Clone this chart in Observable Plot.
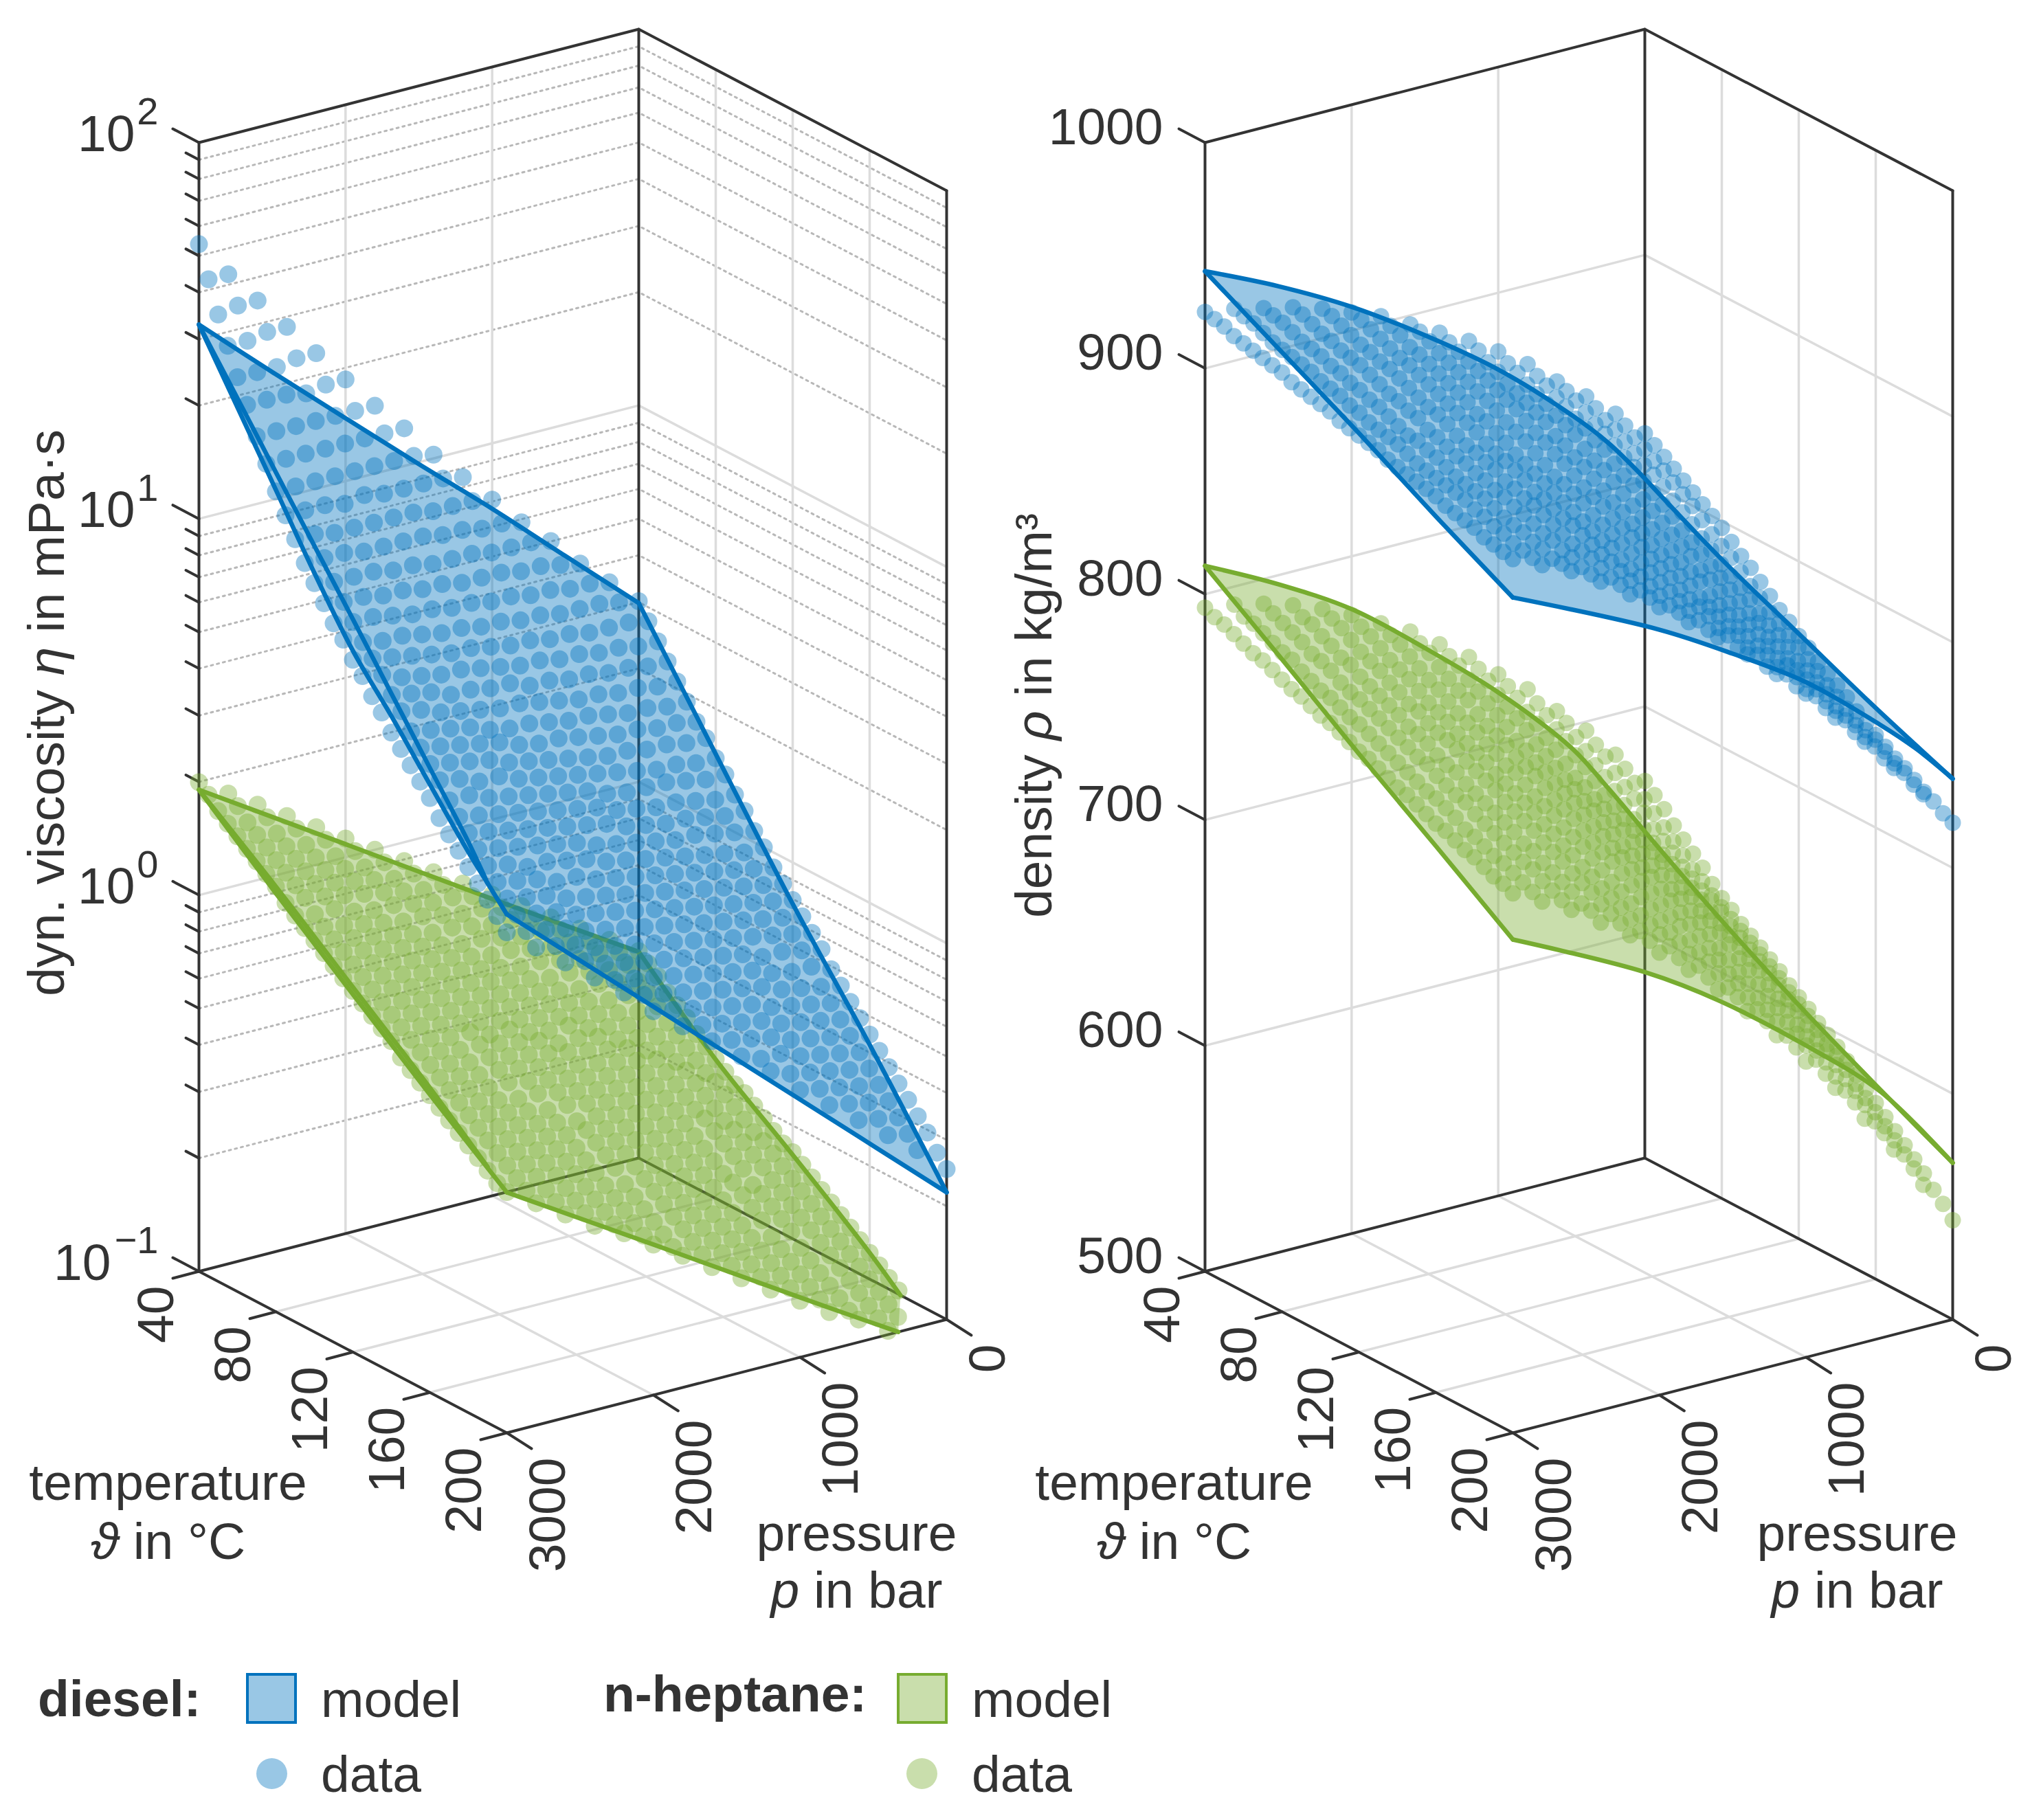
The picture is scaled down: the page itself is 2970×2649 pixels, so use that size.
<!DOCTYPE html>
<html><head><meta charset="utf-8">
<script src="https://cdn.jsdelivr.net/npm/d3@7"></script>
<script src="https://cdn.jsdelivr.net/npm/@observablehq/plot@0.6"></script>
<style>
html,body{margin:0;padding:0;background:#fff}
#page{position:relative;width:2970px;height:2649px;font-family:"Liberation Sans",Arial,sans-serif;color:#333;overflow:hidden}
#legend{position:relative;width:2970px;height:249px}
#legend span{position:absolute;font-size:75px;line-height:75px;white-space:nowrap}
#legend i{position:absolute;display:block;box-sizing:border-box}
</style></head><body><div id="page"><div id="chart"></div><div id="legend"></div></div>
<script>
const temps=[40,45,50,55,60,65,70,75,80,85,90,95,100,105,110,115,120,125,130,135,140,145,150,155,160,165,170,175,180,185,190,195,200];
const press=[0,200,400,600,800,1000,1200,1400,1600,1800,2000,2200,2400,2600,2800,3000];
// log10 of eta (mPa·s): one row per temperature, one column per pressure
const etaDieselData=[
[.48,.55,.62,.70,.77,.85,.93,1.01,1.10,1.18,1.27,1.36,1.45,1.54,1.63,1.73],
[.44,.51,.58,.65,.73,.80,.88,.96,1.04,1.12,1.20,1.29,1.38,1.47,1.56,1.65],
[.40,.47,.54,.60,.68,.75,.82,.90,.98,1.06,1.14,1.22,1.30,1.39,1.48,1.57],
[.36,.42,.49,.56,.63,.70,.77,.85,.92,1.00,1.08,1.16,1.24,1.33,1.41,1.50],
[.32,.38,.45,.51,.58,.65,.73,.80,.87,.95,1.02,1.10,1.18,1.26,1.35,1.43],
[.28,.34,.41,.47,.54,.61,.68,.75,.82,.90,.97,1.05,1.12,1.20,1.28,1.37],
[.24,.30,.37,.43,.50,.56,.63,.70,.77,.84,.92,.99,1.06,1.14,1.22,1.30],
[.21,.27,.33,.39,.46,.52,.59,.66,.73,.80,.87,.94,1.01,1.09,1.16,1.24],
[.17,.23,.29,.35,.42,.48,.55,.61,.68,.75,.82,.89,.96,1.03,1.11,1.18],
[.14,.19,.26,.32,.38,.44,.51,.57,.64,.71,.78,.85,.92,.99,1.06,1.13],
[.10,.16,.22,.28,.34,.41,.47,.53,.60,.67,.73,.80,.87,.94,1.01,1.08],
[.07,.12,.19,.24,.31,.37,.43,.50,.57,.63,.69,.76,.83,.90,.96,1.03],
[.03,.09,.15,.22,.27,.33,.40,.46,.53,.59,.66,.72,.79,.86,.92,.99],
[0,.06,.12,.18,.24,.30,.36,.43,.49,.55,.62,.68,.75,.81,.88,.95],
[-.04,.02,.09,.15,.20,.26,.33,.39,.45,.51,.58,.64,.71,.78,.84,.91],
[-.07,-.01,.05,.12,.17,.23,.29,.36,.42,.48,.54,.61,.68,.74,.81,.88],
[-.10,-.04,.02,.08,.14,.20,.26,.33,.39,.45,.52,.58,.64,.71,.78,.84],
[-.13,-.07,-.01,.05,.11,.17,.23,.30,.36,.42,.48,.55,.61,.68,.74,.81],
[-.16,-.10,-.04,.02,.08,.14,.20,.27,.33,.39,.45,.52,.58,.64,.71,.77],
[-.19,-.13,-.07,-.01,.05,.11,.17,.23,.30,.36,.42,.49,.55,.61,.67,.74],
[-.23,-.16,-.10,-.04,.02,.08,.14,.20,.26,.33,.39,.45,.51,.58,.64,.70],
[-.26,-.19,-.13,-.07,-.01,.05,.11,.17,.23,.30,.36,.42,.48,.55,.61,.67],
[-.29,-.23,-.17,-.11,-.04,.02,.08,.14,.20,.27,.33,.39,.45,.52,.58,.64],
[-.32,-.26,-.20,-.14,-.07,-.01,.05,.11,.17,.23,.30,.36,.42,.48,.54,.61],
[-.35,-.29,-.23,-.17,-.10,-.04,.02,.08,.14,.20,.27,.33,.39,.45,.51,.58],
[-.38,-.32,-.26,-.20,-.13,-.07,-.01,.05,.11,.17,.23,.29,.35,.42,.48,.54],
[-.41,-.35,-.29,-.23,-.17,-.10,-.04,.02,.08,.14,.20,.26,.33,.39,.45,.51],
[-.44,-.38,-.32,-.26,-.20,-.13,-.07,-.01,.05,.11,.17,.23,.30,.36,.42,.48],
[-.47,-.41,-.35,-.29,-.23,-.16,-.10,-.04,.02,.08,.14,.20,.27,.33,.39,.45],
[-.50,-.44,-.38,-.32,-.26,-.19,-.13,-.07,-.01,.05,.11,.17,.24,.30,.36,.42],
[-.53,-.47,-.41,-.35,-.29,-.22,-.16,-.10,-.04,.02,.08,.14,.21,.27,.33,.39],
[-.57,-.50,-.44,-.38,-.32,-.26,-.20,-.13,-.07,-.01,.05,.11,.18,.24,.30,.36],
[-.60,-.53,-.47,-.41,-.35,-.29,-.22,-.16,-.10,-.04,.02,.09,.15,.21,.27,.33]];
const etaHeptData=[
[-.45,-.40,-.35,-.30,-.25,-.20,-.15,-.10,-.05,0,.05,.10,.15,.20,.25,.30],
[-.47,-.42,-.37,-.32,-.27,-.22,-.17,-.12,-.07,-.02,.03,.08,.13,.18,.23,.28],
[-.49,-.44,-.39,-.34,-.29,-.24,-.19,-.14,-.10,-.05,0,.05,.10,.15,.20,.25],
[-.52,-.47,-.42,-.37,-.32,-.27,-.22,-.17,-.12,-.07,-.02,.03,.08,.13,.18,.23],
[-.54,-.49,-.44,-.39,-.34,-.29,-.24,-.19,-.14,-.09,-.04,.01,.06,.11,.16,.21],
[-.56,-.51,-.46,-.41,-.36,-.31,-.26,-.21,-.16,-.11,-.06,-.01,.04,.09,.14,.19],
[-.59,-.54,-.49,-.44,-.39,-.34,-.29,-.24,-.19,-.14,-.09,-.04,.02,.07,.12,.17],
[-.61,-.56,-.51,-.46,-.41,-.36,-.31,-.26,-.21,-.16,-.11,-.06,-.01,.05,.10,.15],
[-.63,-.58,-.53,-.48,-.43,-.38,-.33,-.28,-.23,-.18,-.13,-.08,-.03,.03,.08,.13],
[-.65,-.60,-.55,-.50,-.45,-.40,-.35,-.30,-.25,-.20,-.15,-.10,-.05,0,.05,.10],
[-.67,-.62,-.57,-.52,-.47,-.42,-.37,-.32,-.27,-.22,-.17,-.12,-.07,-.02,.03,.08],
[-.68,-.63,-.58,-.53,-.48,-.43,-.38,-.34,-.29,-.24,-.19,-.14,-.09,-.04,.01,.06],
[-.70,-.65,-.60,-.55,-.50,-.45,-.40,-.36,-.31,-.26,-.21,-.16,-.11,-.06,-.01,.04],
[-.72,-.67,-.62,-.57,-.52,-.47,-.42,-.38,-.33,-.28,-.23,-.18,-.13,-.08,-.03,.02],
[-.74,-.69,-.64,-.59,-.54,-.49,-.44,-.39,-.34,-.29,-.25,-.20,-.15,-.10,-.05,0],
[-.76,-.71,-.66,-.61,-.56,-.51,-.46,-.41,-.36,-.31,-.27,-.22,-.17,-.12,-.07,-.02],
[-.77,-.72,-.67,-.62,-.58,-.53,-.48,-.43,-.38,-.33,-.28,-.23,-.19,-.14,-.09,-.04],
[-.79,-.74,-.69,-.64,-.60,-.55,-.50,-.45,-.40,-.35,-.30,-.25,-.21,-.16,-.11,-.06],
[-.81,-.76,-.71,-.66,-.62,-.57,-.52,-.47,-.42,-.37,-.32,-.27,-.23,-.18,-.13,-.08],
[-.83,-.78,-.73,-.68,-.64,-.59,-.54,-.49,-.44,-.39,-.34,-.29,-.25,-.20,-.15,-.10],
[-.85,-.80,-.75,-.70,-.66,-.61,-.56,-.51,-.46,-.41,-.36,-.31,-.27,-.22,-.17,-.12],
[-.87,-.82,-.77,-.73,-.68,-.63,-.58,-.53,-.48,-.44,-.39,-.34,-.29,-.24,-.19,-.15],
[-.89,-.84,-.79,-.74,-.69,-.65,-.60,-.55,-.50,-.45,-.41,-.36,-.31,-.26,-.21,-.17],
[-.91,-.86,-.81,-.76,-.71,-.67,-.62,-.57,-.52,-.47,-.43,-.38,-.33,-.28,-.23,-.19],
[-.93,-.88,-.83,-.78,-.73,-.69,-.64,-.59,-.54,-.49,-.45,-.40,-.35,-.30,-.25,-.21],
[-.95,-.90,-.85,-.80,-.75,-.71,-.66,-.61,-.56,-.51,-.47,-.42,-.37,-.32,-.27,-.23],
[-.97,-.92,-.87,-.83,-.78,-.73,-.68,-.63,-.58,-.54,-.49,-.44,-.39,-.34,-.29,-.25],
[-.99,-.94,-.89,-.85,-.80,-.75,-.70,-.65,-.60,-.56,-.51,-.46,-.41,-.36,-.31,-.27],
[-1.01,-.96,-.91,-.87,-.82,-.77,-.72,-.67,-.62,-.58,-.53,-.48,-.43,-.38,-.33,-.29],
[-1.03,-.98,-.93,-.89,-.84,-.79,-.74,-.69,-.64,-.60,-.55,-.50,-.45,-.40,-.35,-.31],
[-1.05,-1.00,-.95,-.91,-.86,-.81,-.76,-.71,-.66,-.62,-.57,-.52,-.47,-.42,-.37,-.33],
[-1.07,-1.02,-.97,-.93,-.88,-.83,-.78,-.73,-.68,-.64,-.59,-.54,-.49,-.44,-.39,-.35],
[-1.09,-1.04,-.99,-.94,-.90,-.85,-.80,-.75,-.70,-.65,-.60,-.55,-.51,-.46,-.41,-.36]];
// density in kg/m3
const rhoDieselData=[
[821,833,844,854,865,874,882,889,896,903,908,913,917,920,923,925],
[818,830,841,852,862,871,880,887,895,901,907,912,916,919,922,924],
[815,827,838,850,860,869,877,885,893,899,905,910,914,918,921,923],
[812,824,836,847,857,866,875,883,890,896,903,908,912,916,919,921],
[809,821,833,844,855,864,872,881,888,895,901,906,911,914,917,920],
[806,819,830,842,852,862,870,879,886,893,899,905,909,913,916,919],
[803,816,827,839,850,859,868,877,884,891,898,903,908,912,915,918],
[800,813,825,836,847,857,866,875,882,889,896,902,907,910,914,917],
[797,810,822,834,845,855,864,873,880,887,894,900,905,909,913,916],
[793,806,818,830,841,851,860,870,878,885,892,898,903,907,911,914],
[789,802,815,827,838,848,858,867,875,882,890,896,901,906,910,913],
[786,799,812,824,836,846,855,865,873,881,888,894,900,904,909,912],
[782,796,808,821,832,843,853,862,871,878,886,893,898,903,907,911],
[778,792,805,817,829,840,850,860,868,876,884,891,897,901,906,910],
[774,788,801,814,826,837,847,857,865,873,881,888,894,899,904,908],
[771,785,798,811,823,834,844,854,862,871,879,886,893,897,903,907],
[767,781,795,808,820,831,842,852,861,869,878,885,891,897,902,906],
[764,778,792,805,818,829,839,850,859,867,876,883,889,895,901,905],
[760,775,788,802,814,826,837,847,857,865,874,882,888,894,899,904],
[757,772,785,799,812,823,834,845,854,863,871,879,886,892,897,902],
[754,769,783,796,809,821,832,843,852,861,870,878,885,890,896,901],
[751,766,780,794,806,819,830,841,850,859,868,876,883,889,895,900],
[747,762,776,790,803,815,827,838,848,857,866,875,882,888,894,899],
[744,759,774,788,801,813,825,836,846,855,865,873,880,887,893,898],
[741,756,771,785,799,811,822,834,844,854,863,871,879,885,892,897],
[738,753,768,782,796,808,820,831,842,851,861,869,877,883,890,895],
[735,751,765,780,793,806,818,829,840,849,859,867,875,882,889,894],
[733,749,763,778,792,804,816,828,838,848,858,866,874,881,887,893],
[730,746,761,775,789,802,814,826,836,846,856,865,872,879,886,892],
[727,743,758,773,786,799,811,823,834,844,854,863,871,878,884,890],
[725,741,756,771,785,798,810,822,832,842,852,861,869,876,883,889],
[722,738,753,768,782,795,807,819,830,841,851,860,868,876,882,888],
[720,736,751,766,780,794,806,818,829,839,849,858,867,875,881,887]];
const rhoHeptData=[
[667,682,696,708,721,731,742,751,760,767,774,780,785,789,792,794],
[663,678,692,705,717,728,739,748,757,764,771,778,782,787,789,792],
[659,674,689,701,714,725,736,746,755,762,769,776,781,785,788,791],
[654,669,684,697,710,721,732,742,751,759,766,773,778,783,786,789],
[650,665,680,693,707,718,729,739,748,756,763,770,776,781,784,787],
[646,661,677,690,703,714,726,736,745,753,761,768,773,778,782,785],
[642,657,673,686,700,711,723,733,743,751,759,766,772,777,781,784],
[637,653,668,682,696,707,719,730,739,748,756,763,769,775,778,782],
[633,649,665,678,692,703,716,726,736,745,753,761,767,772,776,780],
[630,646,662,676,689,701,713,724,734,743,751,758,765,770,774,778],
[626,642,658,672,686,698,710,721,732,741,749,757,763,769,773,777],
[623,639,655,669,683,696,708,719,729,738,746,754,761,767,771,775],
[620,636,652,667,681,693,705,716,727,736,744,752,758,765,769,773],
[617,633,650,664,678,691,703,714,725,733,742,751,757,763,768,772],
[614,630,647,661,676,688,700,712,722,732,740,749,755,761,766,770],
[610,627,643,658,672,685,697,709,719,729,737,746,752,759,764,768],
[607,624,640,655,669,682,694,706,717,726,735,744,750,757,762,766],
[604,621,637,652,667,680,692,704,715,724,733,742,749,756,760,765],
[600,617,634,649,663,676,689,701,712,722,731,740,746,753,758,763],
[597,614,631,646,661,674,687,699,709,719,729,737,744,751,756,761],
[594,611,628,643,658,671,684,696,707,717,726,735,742,749,754,759],
[590,607,624,640,655,668,681,693,705,715,724,733,740,748,753,758],
[586,603,621,636,651,665,678,690,702,712,721,731,738,745,751,756],
[582,600,617,632,648,661,675,687,699,709,719,728,736,743,749,754],
[578,596,613,629,644,658,672,684,696,706,716,726,733,741,746,752],
[574,592,610,625,641,655,669,682,693,704,714,724,732,739,745,751],
[570,588,606,622,638,652,666,678,690,701,711,721,729,737,743,749],
[566,584,602,618,634,648,662,675,687,698,709,719,727,735,741,747],
[562,580,599,615,631,645,660,673,685,696,707,717,725,734,740,746],
[558,576,595,611,628,642,656,670,682,694,704,714,723,731,738,744],
[553,572,590,607,624,638,653,666,679,691,701,712,720,729,736,742],
[549,568,587,604,620,635,650,664,676,688,699,710,719,727,734,741],
[544,563,582,599,616,631,646,660,673,685,696,707,716,725,732,739]];
const etaDieselModel={t40:[[0,.475],[500,.65],[1000,.826],[1500,.995],[2000,1.167],[2500,1.34],[3000,1.516]],
 p0:[[40,.475],[80,.181],[120,-.11],[160,-.377],[200,-.662]],
 p3000:[[40,1.516],[60,1.35],[80,1.184],[100,1.017],[120,.864],[140,.744],[160,.616],[180,.49],[190,.434],[200,.378]],
 inner:[[40,1.516],[60,1.374],[80,1.231],[100,1.089],[120,.948],[140,.804],[160,.66],[180,.517],[190,.434]],
 t200:[[3000,.378],[2000,.032],[1000,-.315],[0,-.662]]};
const etaHeptModel={t40:[[0,-.452],[1000,-.211],[2000,.035],[3000,.28]],
 p0:[[40,-.452],[80,-.631],[120,-.777],[160,-.93],[176,-1]],
 p3000:[[40,.28],[80,.112],[120,-.049],[160,-.208],[200,-.361]],
 inner:[[40,.28],[80,.13],[120,-.03],[160,-.19],[190,-.32]],
 t200:[[3000,-.361],[2000,-.6],[1000,-.841],[330,-1]]};
const rhoDieselModel={t40:[[0,801],[250,821],[500,837.5],[1000,866],[1500,889.5],[2000,910.5],[2500,928],[3000,943]],
 p0:[[40,801],[80,783],[120,768],[160,753],[200,739.5]],
 p3000:[[40,943],[80,925],[120,907],[160,888],[200,870]],
 t200:[[3000,870],[2000,839],[1500,820],[1000,799],[500,772],[250,757],[0,739.5]]};
const rhoHeptModel={t40:[[0,644.6],[250,668],[500,690],[1000,723],[1500,751],[2000,776.6],[2500,796],[3000,812.5]],
 p0:[[40,644.6],[80,623],[120,603.5],[160,586],[200,569.4]],
 p3000:[[40,812.5],[80,789],[120,765],[160,742],[200,718.5]],
 t200:[[3000,718.5],[2100,689],[1590,667.7],[933,634.5],[490,609],[0,569.4]]};
const minorDecades=[-1,0,1], minorMult=[2,3,4,5,6,7,8,9];
const etaMajor=[0,1], rhoMajor=[600,700,800,900];
const tempTicks=[40,80,120,160,200], pressTicks=[0,1000,2000,3000];
const BLUE="#0072BD",GREEN="#77AC30",INK="#333",FS=75;
const H=1643;
const left={x0:289,h:v=>(v+1)/3*H,vmin:-1,vmax:2,r:13};
const right={x0:1753,h:v=>(v-500)/500*H,vmin:500,vmax:1000,r:12};
const proj=(P,T,p,v)=>{const t=(T-40)/160,q=(3000-p)/3000;return {x:P.x0+448*t+640*q,y:1850+235*t-165*q-P.h(v)};};
const seg=(pts,o)=>Plot.line(pts,{x:"x",y:"y",...o});
const tbl=(P,tab)=>tab.flatMap((r,i)=>r.map((v,j)=>({T:temps[i],p:press[j],v}))).filter(d=>d.v>=P.vmin).map(d=>proj(P,d.T,d.p,d.v));
function modelMarks(P,m,c){
 const a=m.t40.map(([p,v])=>proj(P,40,p,v)),b=m.p0.map(([T,v])=>proj(P,T,0,v)),cc=m.t200.map(([p,v])=>proj(P,200,p,v)),d=m.p3000.map(([T,v])=>proj(P,T,3000,v));
 const ring=[...a,...b,...cc.slice().reverse(),...d.slice().reverse()];
 const out=[seg(ring,{fill:c,fillOpacity:.4,stroke:"none"})];
 const o={stroke:c,strokeWidth:6.5,curve:"catmull-rom"};
 for(const s of [a,b,cc,d]) out.push(seg(s,o));
 if(m.inner) out.push(seg(m.inner.map(([T,v])=>proj(P,T,3000,v)),o));
 return out;
}
function frame(P,majors,minors){
 const g=[],gl={stroke:"#dcdcdc",strokeWidth:3.5},dot={stroke:"#b8b8b8",strokeWidth:3,strokeDasharray:"3 6"},ax={stroke:INK,strokeWidth:4};
 for(const v of minors){g.push(seg([proj(P,40,3000,v),proj(P,40,0,v),proj(P,200,0,v)],dot));}
 for(const v of majors){g.push(seg([proj(P,40,3000,v),proj(P,40,0,v),proj(P,200,0,v)],gl));}
 for(const p of [1000,2000]){g.push(seg([proj(P,200,p,P.vmin),proj(P,40,p,P.vmin),proj(P,40,p,P.vmax)],gl));}
 for(const T of [80,120,160]){g.push(seg([proj(P,T,3000,P.vmin),proj(P,T,0,P.vmin),proj(P,T,0,P.vmax)],gl));}
 g.push(seg([proj(P,40,3000,P.vmax),proj(P,40,0,P.vmax),proj(P,200,0,P.vmax)],ax));
 g.push(seg([proj(P,40,3000,P.vmin),proj(P,40,3000,P.vmax)],ax));
 g.push(seg([proj(P,40,0,P.vmin),proj(P,40,0,P.vmax)],ax));
 g.push(seg([proj(P,200,0,P.vmin),proj(P,200,0,P.vmax)],ax));
 g.push(seg([proj(P,40,3000,P.vmin),proj(P,40,0,P.vmin),proj(P,200,0,P.vmin)],ax));
 g.push(seg([proj(P,40,3000,P.vmin),proj(P,200,3000,P.vmin),proj(P,200,0,P.vmin)],ax));
 for(const T of tempTicks){const a=proj(P,T,3000,P.vmin);g.push(seg([a,{x:a.x-38,y:a.y+10}],ax));}
 for(const p of pressTicks){const a=proj(P,200,p,P.vmin);g.push(seg([a,{x:a.x+36,y:a.y+23}],ax));}
 return g;
}
function vTicks(P,vals,len){return vals.map(v=>{const a=proj(P,40,3000,v);return seg([a,{x:a.x-38*len,y:a.y-20*len}],{stroke:INK,strokeWidth:4});});}
function labels(P,pOff){
 const tl=tempTicks.map(T=>{const a=proj(P,T,3000,P.vmin);return {x:a.x-62,y:a.y+21,s:String(T)};});
 const pl=pressTicks.map(p=>{const a=proj(P,200,p,P.vmin);return {x:a.x+60,y:a.y+36,s:String(p)};});
 const base=proj(P,40,3000,P.vmin);
 const lines=[{x:base.x-45,y:base.y+332,s:"temperature"},{x:base.x-45,y:base.y+418,s:"*ϑ* in °C"},{x:base.x+957+pOff,y:base.y+406,s:"pressure"},{x:base.x+957+pOff,y:base.y+489,s:"*p* in bar"}];
 return [
  Plot.text([...tl,...pl],{x:"x",y:"y",text:"s",rotate:-90,textAnchor:"end",lineAnchor:"middle",fontSize:FS,fill:INK}),
  Plot.text(lines,{x:"x",y:"y",text:"s",textAnchor:"middle",lineAnchor:"bottom",fontSize:FS,fill:INK})
 ];
}
const minorVals=minorDecades.flatMap(d=>minorMult.map(m=>d+Math.log10(m)));
const dotOpt=(c,r)=>({x:"x",y:"y",r,fill:c,fillOpacity:.4,stroke:"none"});
const etaExp=[{v:2,e:"2"},{v:1,e:"1"},{v:0,e:"0"},{v:-1,e:"−1"}];
const marks=[
 ...frame(left,etaMajor,minorVals),...frame(right,rhoMajor,[]),
 ...vTicks(left,[-1,0,1,2],1),...vTicks(left,minorVals,.5),...vTicks(right,[500,600,700,800,900,1000],1),
 ...modelMarks(left,etaHeptModel,GREEN),Plot.dot(tbl(left,etaHeptData),dotOpt(GREEN,left.r)),
 ...modelMarks(left,etaDieselModel,BLUE),Plot.dot(tbl(left,etaDieselData),dotOpt(BLUE,left.r)),
 ...modelMarks(right,rhoHeptModel,GREEN),Plot.dot(tbl(right,rhoHeptData),dotOpt(GREEN,right.r)),
 ...modelMarks(right,rhoDieselModel,BLUE),Plot.dot(tbl(right,rhoDieselData),dotOpt(BLUE,right.r)),
 Plot.text(etaExp,{x:d=>proj(left,40,3000,d.v).x-38-(d.v<0?90:55),y:d=>proj(left,40,3000,d.v).y-20+8,text:()=>"10",textAnchor:"end",lineAnchor:"middle",fontSize:FS,fill:INK}),
 Plot.text(etaExp,{x:d=>proj(left,40,3000,d.v).x-38-21,y:d=>proj(left,40,3000,d.v).y-20-24,text:"e",textAnchor:"end",lineAnchor:"middle",fontSize:56,fill:INK}),
 Plot.text([500,600,700,800,900,1000],{x:d=>proj(right,40,3000,d).x-38-23,y:d=>proj(right,40,3000,d).y-20-2,text:d=>String(d),textAnchor:"end",lineAnchor:"middle",fontSize:FS,fill:INK}),
 ...labels(left,0),...labels(right,-8),
 Plot.text([{x:68,y:1037,s:"dyn. viscosity *η* in mPa·s"},{x:1505,y:1041,s:"density *ρ* in kg/m³"}],{x:"x",y:"y",text:"s",rotate:-90,textAnchor:"middle",lineAnchor:"middle",fontSize:FS,fill:INK})
];
const plot=Plot.plot({width:2970,height:2400,margin:0,x:{domain:[0,2970],range:[0,2970],axis:null},y:{domain:[0,2400],range:[0,2400],axis:null},style:{background:"#fff",fontFamily:'"Liberation Sans",Arial,sans-serif'},marks});
d3.select(plot).selectAll("text").each(function(){const t=this.textContent;if(!t.includes("*"))return;const parts=t.split("*");this.textContent="";parts.forEach((s,i)=>{const sp=document.createElementNS("http://www.w3.org/2000/svg","tspan");sp.textContent=s;if(i%2)sp.setAttribute("font-style","italic");this.appendChild(sp);});});
document.getElementById("chart").appendChild(plot);plot.style.display="block";
const L=document.getElementById("legend");
const add=(tag,css,txt)=>{const e=document.createElement(tag);e.style.cssText=css;if(txt)e.textContent=txt;L.appendChild(e);};
const T0=-2400;
const sp=(x,base,txt,bold)=>add("span",`left:${x}px;top:${base+T0-63}px;${bold?"font-weight:700;":""}`,txt);
sp(55,2498,"diesel:",1);sp(467,2499,"model");sp(467,2608,"data");
sp(878,2491,"n-heptane:",1);sp(1414,2499,"model");sp(1414,2608,"data");
add("i",`left:358px;top:${2435+T0}px;width:74px;height:74px;background:#99c7e5;border:4px solid ${BLUE}`);
add("i",`left:1305px;top:${2435+T0}px;width:74px;height:74px;background:#c9deac;border:4px solid ${GREEN}`);
add("i",`left:373px;top:${2559+T0}px;width:45px;height:45px;border-radius:50%;background:#99c7e5`);
add("i",`left:1319px;top:${2559+T0}px;width:45px;height:45px;border-radius:50%;background:#c9deac`);
</script></body></html>
